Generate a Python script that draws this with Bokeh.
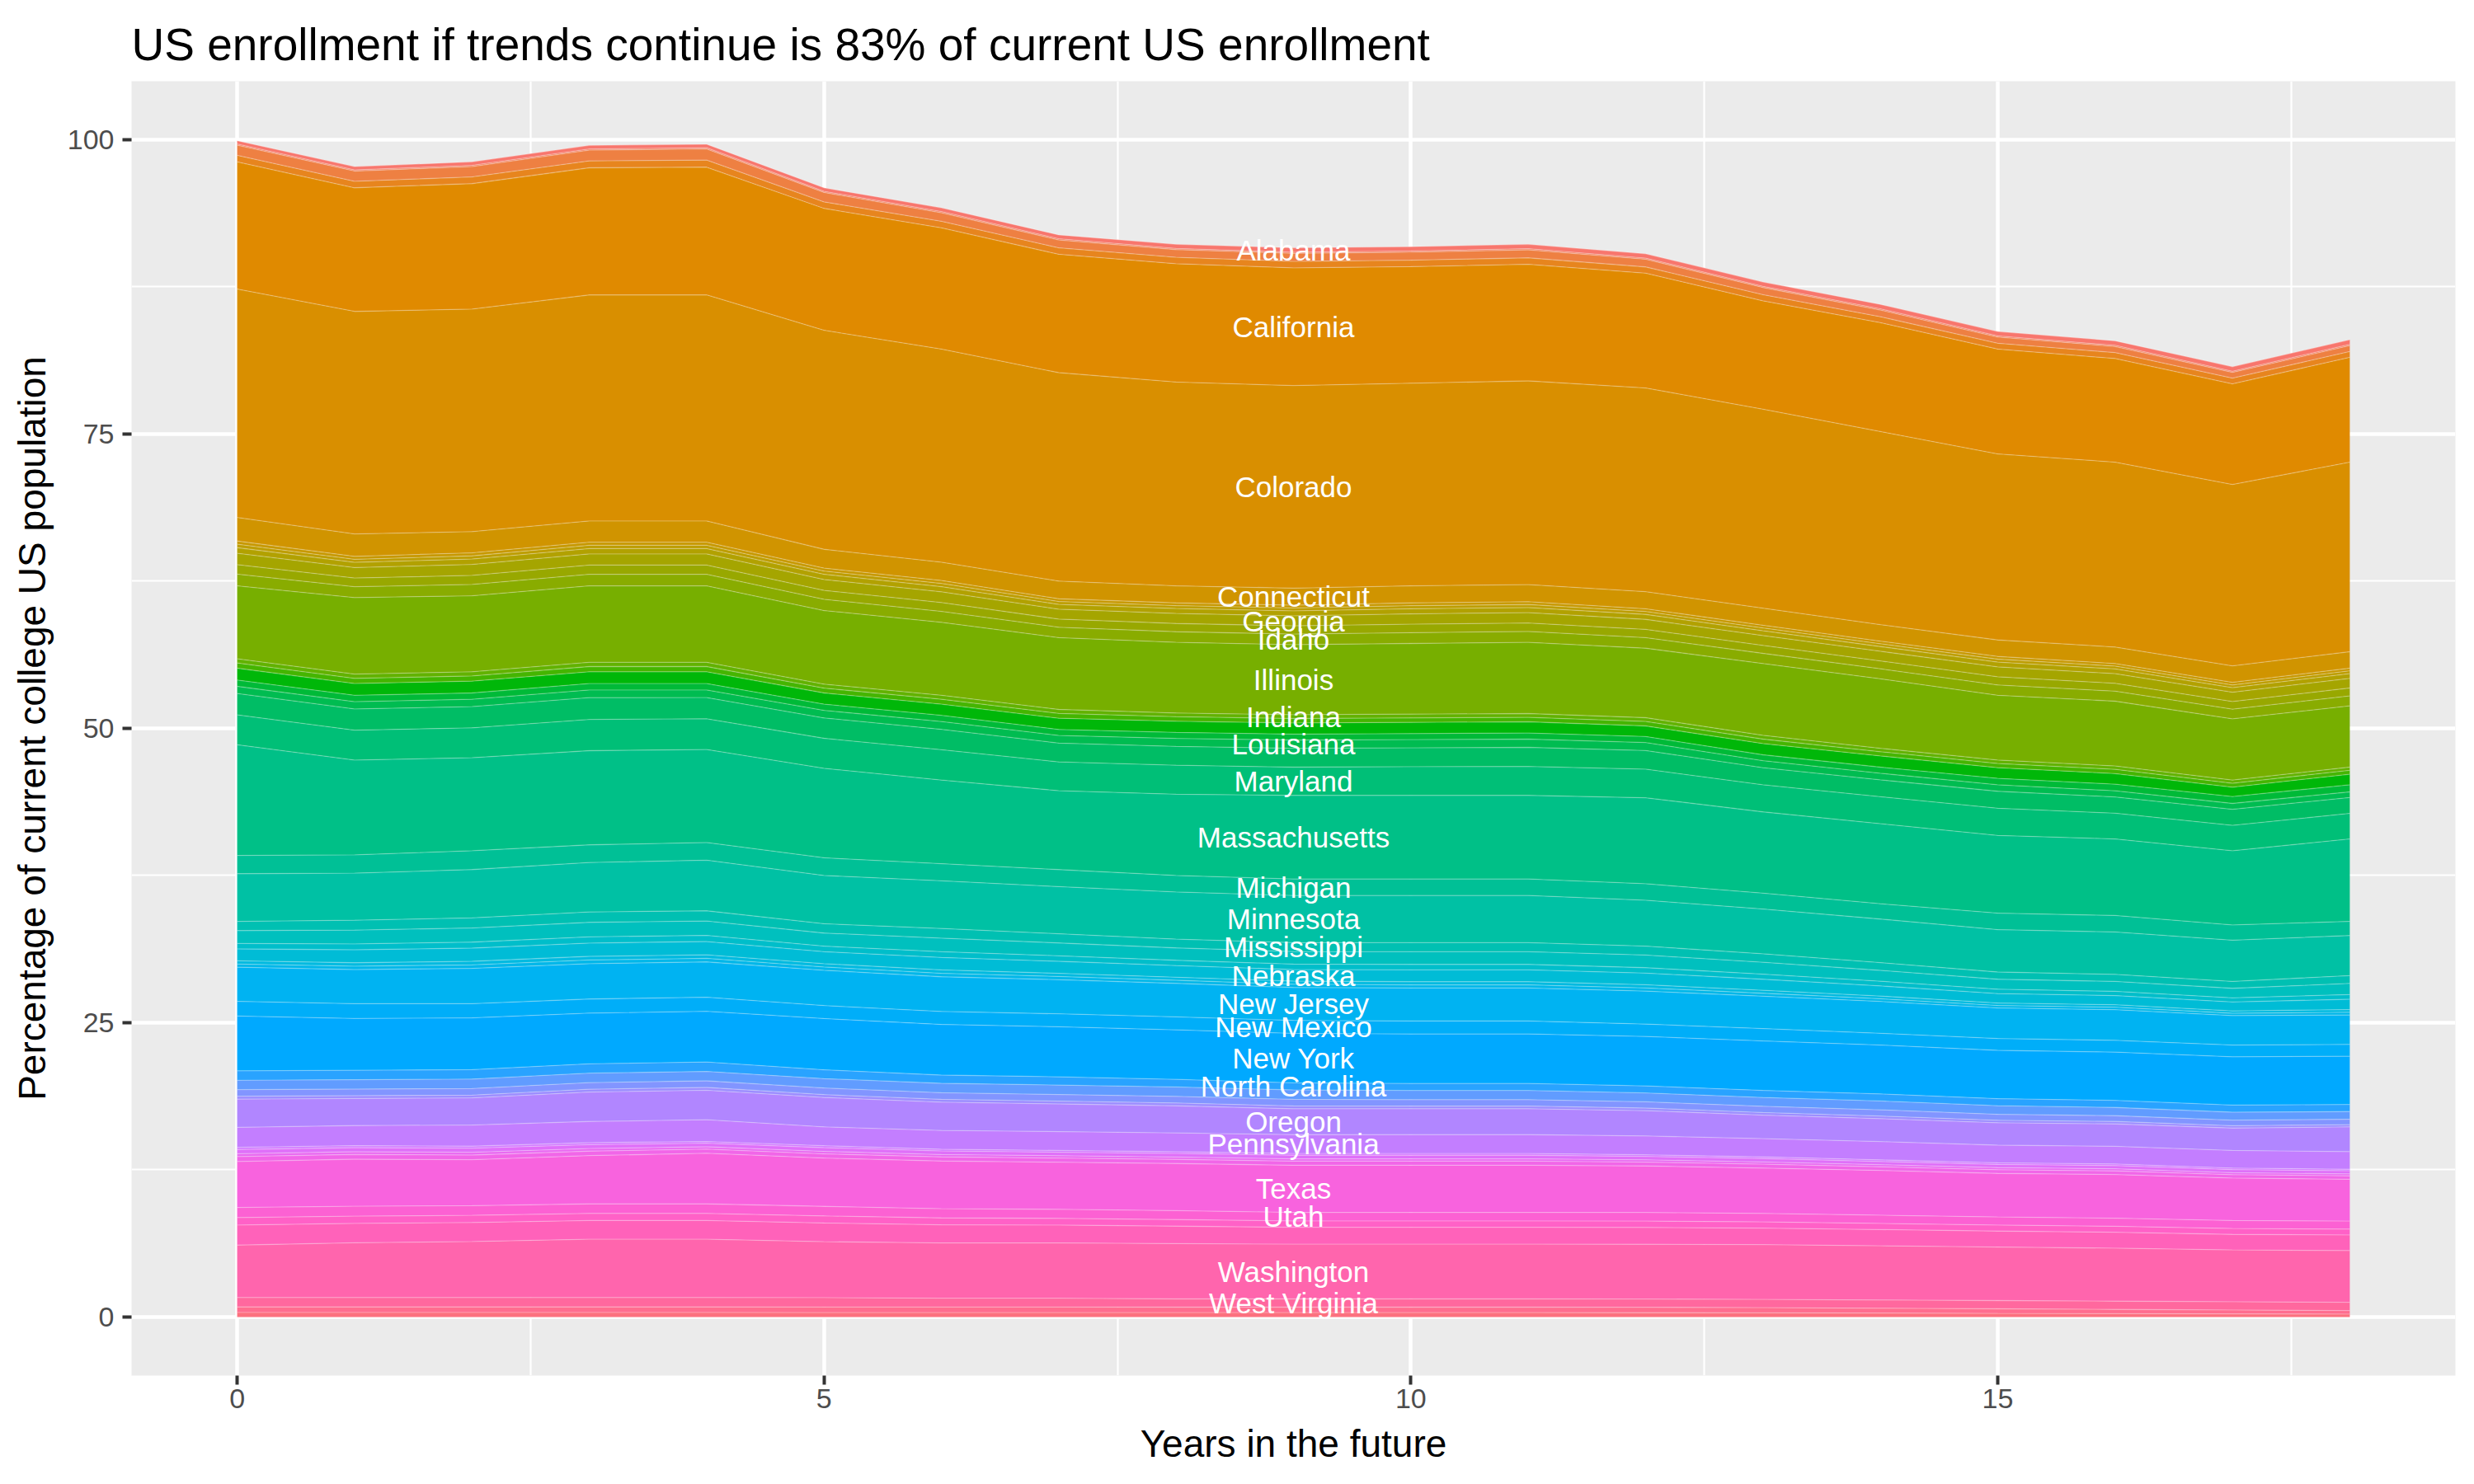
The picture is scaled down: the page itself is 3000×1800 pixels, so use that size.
import math
from bokeh.plotting import figure
from bokeh.models import ColumnDataSource, Range1d, FixedTicker
from bokeh.embed import file_html
from bokeh.resources import INLINE
from bokeh.core.properties import value

# ---------------- data (percentage of current college US population) ----------------
years = list(range(19))

alabama = [0.28, 0.28, 0.3, 0.3, 0.3, 0.3, 0.32, 0.33, 0.35, 0.37, 0.37, 0.37, 0.37, 0.37, 0.38, 0.38, 0.38, 0.38, 0.4]
alaska = [0.1, 0.1, 0.1, 0.1, 0.1, 0.1, 0.1, 0.1, 0.1, 0.1, 0.1, 0.1, 0.1, 0.1, 0.1, 0.1, 0.1, 0.1, 0.1]
arizona = [0.87, 0.87, 0.88, 0.92, 0.95, 0.8, 0.73, 0.67, 0.65, 0.68, 0.68, 0.68, 0.65, 0.61, 0.57, 0.52, 0.52, 0.49, 0.5]
arkansas = [0.55, 0.55, 0.57, 0.58, 0.6, 0.55, 0.55, 0.55, 0.55, 0.55, 0.55, 0.55, 0.53, 0.52, 0.5, 0.5, 0.5, 0.48, 0.5]
california = [10.8, 10.5, 10.65, 10.8, 10.85, 10.35, 10.3, 10.05, 10.05, 10.0, 9.9, 9.9, 9.75, 9.2, 9.25, 8.9, 8.8, 8.55, 8.9]
colorado = [19.4, 18.9, 18.9, 19.2, 19.2, 18.6, 18.1, 17.7, 17.3, 17.2, 17.2, 17.3, 17.3, 16.9, 16.4, 15.8, 15.7, 15.4, 16.1]
connecticut = [2.0, 1.9, 1.8, 1.8, 1.8, 1.6, 1.55, 1.5, 1.45, 1.45, 1.45, 1.45, 1.45, 1.45, 1.4, 1.4, 1.4, 1.4, 1.4]
delaware = [0.27, 0.25, 0.26, 0.26, 0.26, 0.25, 0.25, 0.23, 0.23, 0.23, 0.24, 0.24, 0.23, 0.23, 0.22, 0.23, 0.22, 0.22, 0.22]
district_of_columbia = [0.29, 0.26, 0.27, 0.28, 0.28, 0.27, 0.27, 0.25, 0.25, 0.25, 0.26, 0.26, 0.25, 0.24, 0.24, 0.25, 0.24, 0.23, 0.24]
florida = [0.48, 0.44, 0.46, 0.46, 0.46, 0.45, 0.44, 0.41, 0.42, 0.42, 0.43, 0.43, 0.42, 0.41, 0.4, 0.41, 0.4, 0.39, 0.4]
georgia = [0.97, 0.89, 0.93, 0.94, 0.94, 0.92, 0.91, 0.84, 0.85, 0.85, 0.88, 0.88, 0.85, 0.83, 0.82, 0.84, 0.82, 0.79, 0.82]
hawaii = [0.8, 0.74, 0.77, 0.78, 0.78, 0.76, 0.75, 0.69, 0.7, 0.7, 0.72, 0.72, 0.7, 0.68, 0.67, 0.69, 0.67, 0.65, 0.67]
idaho = [0.99, 0.92, 0.96, 0.98, 0.98, 0.95, 0.93, 0.88, 0.9, 0.9, 0.92, 0.92, 0.9, 0.86, 0.85, 0.88, 0.85, 0.82, 0.85]
illinois = [6.2, 6.5, 6.45, 6.5, 6.5, 6.25, 6.2, 6.1, 6.0, 5.95, 6.0, 6.05, 5.9, 6.1, 5.9, 5.5, 5.5, 5.2, 5.2]
indiana = [0.36, 0.36, 0.36, 0.36, 0.36, 0.34, 0.34, 0.34, 0.32, 0.32, 0.32, 0.32, 0.32, 0.32, 0.29, 0.29, 0.29, 0.27, 0.27]
iowa = [0.44, 0.44, 0.44, 0.44, 0.44, 0.41, 0.41, 0.41, 0.38, 0.38, 0.38, 0.38, 0.38, 0.38, 0.36, 0.36, 0.36, 0.33, 0.33]
kansas = [1.0, 1.0, 1.0, 1.0, 1.0, 0.95, 0.95, 0.95, 0.95, 0.95, 0.95, 0.95, 0.9, 0.95, 0.95, 0.9, 0.9, 0.8, 0.9]
kentucky = [0.54, 0.54, 0.54, 0.55, 0.55, 0.53, 0.53, 0.51, 0.51, 0.5, 0.51, 0.52, 0.51, 0.5, 0.52, 0.55, 0.56, 0.58, 0.6]
louisiana = [0.61, 0.62, 0.62, 0.65, 0.64, 0.64, 0.66, 0.65, 0.68, 0.7, 0.7, 0.7, 0.68, 0.6, 0.56, 0.55, 0.52, 0.5, 0.48]
maine = [1.81, 1.8, 1.8, 1.85, 1.8, 1.73, 1.73, 1.6, 1.6, 1.6, 1.6, 1.62, 1.58, 1.45, 1.43, 1.44, 1.38, 1.36, 1.35]
maryland = [2.54, 2.54, 2.54, 2.65, 2.61, 2.55, 2.58, 2.44, 2.46, 2.4, 2.44, 2.46, 2.43, 2.3, 2.29, 2.31, 2.19, 2.16, 2.17]
massachusetts = [9.4, 8.05, 7.9, 8.0, 7.9, 7.6, 7.1, 6.7, 6.9, 7.1, 7.1, 7.1, 7.3, 6.9, 6.8, 6.6, 6.5, 6.3, 7.0]
michigan = [1.55, 1.55, 1.6, 1.5, 1.5, 1.5, 1.45, 1.45, 1.4, 1.4, 1.4, 1.4, 1.4, 1.35, 1.3, 1.4, 1.4, 1.3, 1.2]
minnesota = [4.05, 4.0, 4.1, 4.2, 4.3, 4.1, 4.05, 4.0, 4.0, 4.0, 4.0, 4.0, 3.9, 3.8, 3.7, 3.6, 3.6, 3.5, 3.4]
mississippi = [0.78, 0.84, 0.86, 0.88, 0.87, 0.79, 0.82, 0.78, 0.75, 0.76, 0.77, 0.77, 0.76, 0.72, 0.66, 0.61, 0.6, 0.58, 0.67]
missouri = [1.09, 1.17, 1.2, 1.23, 1.22, 1.11, 1.15, 1.09, 1.05, 1.07, 1.08, 1.08, 1.07, 1.01, 0.92, 0.85, 0.84, 0.81, 0.94]
montana = [0.47, 0.5, 0.51, 0.53, 0.52, 0.47, 0.49, 0.47, 0.45, 0.46, 0.46, 0.46, 0.46, 0.43, 0.4, 0.37, 0.36, 0.35, 0.4]
nebraska = [1.01, 1.1, 1.12, 1.13, 1.13, 1.02, 1.06, 1.02, 0.99, 0.98, 1.01, 1.01, 0.99, 0.94, 0.86, 0.8, 0.78, 0.76, 0.88]
nevada = [0.27, 0.29, 0.3, 0.31, 0.3, 0.28, 0.29, 0.27, 0.26, 0.27, 0.27, 0.27, 0.27, 0.25, 0.23, 0.21, 0.21, 0.2, 0.23]
new_hampshire = [0.27, 0.29, 0.3, 0.31, 0.3, 0.28, 0.29, 0.27, 0.26, 0.27, 0.27, 0.27, 0.27, 0.25, 0.23, 0.21, 0.21, 0.2, 0.23]
new_jersey = [2.9, 2.9, 3.0, 3.0, 3.0, 3.0, 2.95, 2.9, 2.85, 2.8, 2.8, 2.8, 2.8, 2.75, 2.7, 2.6, 2.6, 2.5, 2.5]
new_mexico = [1.25, 1.25, 1.2, 1.2, 1.2, 1.1, 1.1, 1.1, 1.1, 1.1, 1.1, 1.1, 1.05, 1.05, 1.0, 1.0, 1.0, 1.0, 1.0]
new_york = [4.65, 4.4, 4.4, 4.3, 4.3, 4.35, 4.3, 4.25, 4.2, 4.2, 4.2, 4.2, 4.2, 4.2, 4.15, 4.1, 4.1, 4.1, 4.1]
north_carolina = [0.8, 0.8, 0.8, 0.8, 0.8, 0.75, 0.7, 0.7, 0.65, 0.6, 0.6, 0.6, 0.6, 0.6, 0.6, 0.6, 0.6, 0.6, 0.6]
north_dakota = [0.8, 0.8, 0.8, 0.8, 0.8, 0.8, 0.8, 0.8, 0.8, 0.8, 0.78, 0.78, 0.75, 0.75, 0.75, 0.73, 0.7, 0.68, 0.65]
ohio = [0.56, 0.56, 0.56, 0.56, 0.56, 0.56, 0.56, 0.56, 0.56, 0.56, 0.54, 0.54, 0.53, 0.53, 0.53, 0.51, 0.49, 0.47, 0.46]
oklahoma = [0.24, 0.24, 0.24, 0.24, 0.24, 0.24, 0.24, 0.24, 0.24, 0.24, 0.23, 0.23, 0.22, 0.22, 0.22, 0.21, 0.21, 0.2, 0.19]
oregon = [2.4, 2.3, 2.3, 2.5, 2.5, 2.5, 2.4, 2.35, 2.3, 2.2, 2.2, 2.2, 2.15, 2.0, 1.95, 1.9, 1.9, 1.9, 2.1]
pennsylvania = [1.7, 1.7, 1.8, 1.8, 1.85, 1.6, 1.6, 1.6, 1.6, 1.6, 1.6, 1.6, 1.6, 1.55, 1.55, 1.5, 1.5, 1.5, 1.5]
rhode_island = [0.18, 0.17, 0.17, 0.17, 0.15, 0.16, 0.15, 0.15, 0.15, 0.15, 0.15, 0.15, 0.14, 0.14, 0.14, 0.14, 0.14, 0.13, 0.13]
south_carolina = [0.36, 0.35, 0.35, 0.33, 0.3, 0.32, 0.3, 0.3, 0.3, 0.3, 0.3, 0.3, 0.29, 0.29, 0.27, 0.27, 0.27, 0.26, 0.26]
south_dakota = [0.24, 0.23, 0.23, 0.22, 0.2, 0.21, 0.2, 0.2, 0.2, 0.2, 0.2, 0.2, 0.19, 0.19, 0.18, 0.18, 0.18, 0.17, 0.17]
tennessee = [0.42, 0.4, 0.4, 0.38, 0.35, 0.36, 0.35, 0.35, 0.35, 0.35, 0.35, 0.35, 0.33, 0.33, 0.31, 0.31, 0.31, 0.29, 0.29]
texas = [3.9, 4.0, 3.9, 4.1, 4.3, 4.1, 4.05, 4.0, 4.0, 4.0, 4.0, 4.0, 3.95, 3.85, 3.8, 3.7, 3.7, 3.6, 3.55]
utah = [0.86, 0.84, 0.82, 0.81, 0.81, 0.81, 0.78, 0.77, 0.76, 0.73, 0.73, 0.73, 0.73, 0.72, 0.7, 0.69, 0.69, 0.68, 0.68]
vermont = [0.64, 0.62, 0.61, 0.6, 0.6, 0.6, 0.58, 0.57, 0.56, 0.54, 0.54, 0.54, 0.54, 0.53, 0.52, 0.51, 0.51, 0.5, 0.5]
virginia = [1.7, 1.64, 1.62, 1.59, 1.59, 1.59, 1.54, 1.51, 1.48, 1.43, 1.43, 1.43, 1.43, 1.4, 1.38, 1.35, 1.35, 1.32, 1.32]
washington = [4.45, 4.65, 4.75, 4.95, 4.95, 4.75, 4.7, 4.7, 4.7, 4.65, 4.65, 4.65, 4.65, 4.65, 4.6, 4.55, 4.5, 4.4, 4.4]
west_virginia = [0.8, 0.8, 0.8, 0.8, 0.8, 0.8, 0.75, 0.75, 0.7, 0.7, 0.7, 0.7, 0.7, 0.7, 0.7, 0.7, 0.7, 0.7, 0.7]
wisconsin = [0.47, 0.47, 0.47, 0.47, 0.47, 0.47, 0.47, 0.47, 0.46, 0.46, 0.46, 0.46, 0.46, 0.44, 0.41, 0.39, 0.36, 0.33, 0.3]
wyoming = [0.39, 0.39, 0.39, 0.39, 0.39, 0.38, 0.38, 0.38, 0.38, 0.38, 0.38, 0.38, 0.37, 0.36, 0.34, 0.31, 0.29, 0.27, 0.25]

states = ["Alabama", "Alaska", "Arizona", "Arkansas", "California", "Colorado", "Connecticut",
          "Delaware", "District of Columbia", "Florida", "Georgia", "Hawaii", "Idaho", "Illinois",
          "Indiana", "Iowa", "Kansas", "Kentucky", "Louisiana", "Maine", "Maryland", "Massachusetts",
          "Michigan", "Minnesota", "Mississippi", "Missouri", "Montana", "Nebraska", "Nevada",
          "New Hampshire", "New Jersey", "New Mexico", "New York", "North Carolina", "North Dakota",
          "Ohio", "Oklahoma", "Oregon", "Pennsylvania", "Rhode Island", "South Carolina",
          "South Dakota", "Tennessee", "Texas", "Utah", "Vermont", "Virginia", "Washington",
          "West Virginia", "Wisconsin", "Wyoming"]
series = [alabama, alaska, arizona, arkansas, california, colorado, connecticut,
          delaware, district_of_columbia, florida, georgia, hawaii, idaho, illinois,
          indiana, iowa, kansas, kentucky, louisiana, maine, maryland, massachusetts,
          michigan, minnesota, mississippi, missouri, montana, nebraska, nevada,
          new_hampshire, new_jersey, new_mexico, new_york, north_carolina, north_dakota,
          ohio, oklahoma, oregon, pennsylvania, rhode_island, south_carolina,
          south_dakota, tennessee, texas, utah, vermont, virginia, washington,
          west_virginia, wisconsin, wyoming]

labelled_states = ["Alabama", "California", "Colorado", "Connecticut", "Georgia", "Idaho",
                   "Illinois", "Indiana", "Louisiana", "Maryland", "Massachusetts", "Michigan",
                   "Minnesota", "Mississippi", "Nebraska", "New Jersey", "New Mexico", "New York",
                   "North Carolina", "Oregon", "Pennsylvania", "Texas", "Utah", "Washington",
                   "West Virginia"]
label_year = 9

title_text = "US enrollment if trends continue is 83% of current US enrollment"
x_title = "Years in the future"
y_title = "Percentage of current college US population"
x_ticks = [0, 5, 10, 15]
y_ticks = [0, 25, 50, 75, 100]


# ---------------- ggplot2 default hue palette (HCL, c=100, l=65) ----------------
def hcl_hex(h, c=100.0, l=65.0):
    Xn, Yn, Zn = 95.047, 100.0, 108.883
    den = Xn + 15 * Yn + 3 * Zn
    un, vn = 4 * Xn / den, 9 * Yn / den
    hr = math.radians(h)
    U, V = c * math.cos(hr), c * math.sin(hr)
    Y = Yn * ((l + 16) / 116) ** 3 if l > 8 else Yn * l / 903.3
    up, vp = U / (13 * l) + un, V / (13 * l) + vn
    X = 9.0 * Y * up / (4 * vp)
    Z = Y * (12 - 3 * up - 20 * vp) / (4 * vp)
    X, Y, Z = X / 100, Y / 100, Z / 100
    rgb = [3.240479 * X - 1.537150 * Y - 0.498535 * Z,
           -0.969256 * X + 1.875992 * Y + 0.041556 * Z,
           0.055648 * X - 0.204043 * Y + 1.057311 * Z]
    out = []
    for v in rgb:
        v = 12.92 * v if v <= 0.0031308 else 1.055 * (v ** (1 / 2.4)) - 0.055 if v > 0 else 0
        v = min(max(v, 0.0), 1.0)
        out.append(int(round(v * 255)))
    return "#%02X%02X%02X" % tuple(out)


n = len(states)
colors = [hcl_hex(15 + 360.0 * i / n) for i in range(n)]

# stacking: first factor level on top (ggplot position_stack), so stack from the last one
data = {"x": years}
for s, vals in zip(states, series):
    data[s] = vals
src = ColumnDataSource(data)
stack_names = states[::-1]
stack_colors = colors[::-1]

# label positions: middle of each band at label_year
cum = 0.0
mids = {}
for s in stack_names:
    v = series[states.index(s)][label_year]
    mids[s] = cum + v / 2.0
    cum += v
lab_x = [label_year] * len(labelled_states)
lab_y = [mids[s] for s in labelled_states]

FONT = "Liberation Sans"

p = figure(width=2984, height=1784, output_backend="svg", toolbar_location=None,
           x_range=Range1d(-0.9, 18.9), y_range=Range1d(-4.97, 104.95),
           min_border_left=159, min_border_right=7, min_border_top=98, min_border_bottom=116)

p.background_fill_color = "#EBEBEB"
p.border_fill_color = "white"
p.outline_line_color = None

p.varea_stack(stackers=stack_names, x="x", color=stack_colors, source=src)
p.vline_stack(stackers=stack_names, x="x", line_color="white", line_alpha=0.28,
              line_width=1.3, source=src)

p.text(x=lab_x, y=lab_y, text=labelled_states, text_color="white",
       text_font=value(FONT), text_font_size="35px", text_align="center",
       text_baseline="middle")

# axes / ticks
p.xaxis.ticker = FixedTicker(ticks=x_ticks, minor_ticks=[2.5, 7.5, 12.5, 17.5])
p.yaxis.ticker = FixedTicker(ticks=y_ticks, minor_ticks=[12.5, 37.5, 62.5, 87.5])
for ax in (p.xaxis, p.yaxis):
    ax.axis_line_color = None
    ax.major_tick_line_color = "#333333"
    ax.major_tick_line_width = 4
    ax.major_tick_out = 11
    ax.major_tick_in = 0
    ax.minor_tick_line_color = None
    ax.major_label_text_color = "#4D4D4D"
    ax.major_label_text_font = FONT
    ax.major_label_text_font_size = "34px"
    ax.axis_label_text_font = FONT
    ax.axis_label_text_font_size = "46px"
    ax.axis_label_text_font_style = "normal"
    ax.axis_label_text_color = "black"
p.xaxis.major_label_standoff = 5
p.yaxis.major_label_standoff = 10
p.xaxis.axis_label = x_title
p.yaxis.axis_label = y_title
p.xaxis.axis_label_standoff = 14
p.yaxis.axis_label_standoff = 14

for g in (p.xgrid, p.ygrid):
    g.grid_line_color = "white"
    g.grid_line_width = 4.5
    g.minor_grid_line_color = "white"
    g.minor_grid_line_width = 2.2

p.title.text = title_text
p.title.align = "left"
p.title.text_font = FONT
p.title.text_font_size = "55px"
p.title.text_font_style = "normal"
p.title.text_color = "black"
p.title.standoff = 28

open("out.html", "w").write(file_html(p, INLINE))
